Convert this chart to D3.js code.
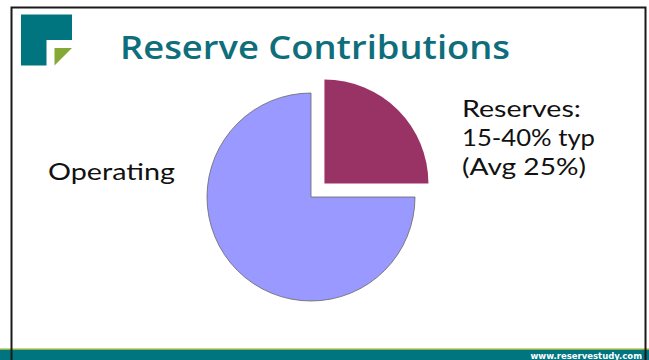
<!DOCTYPE html>
<html>
<head>
<meta charset="utf-8">
<script src="https://cdn.jsdelivr.net/npm/d3@7"></script>
<style>
    body { margin: 0; background: #fff; }
    svg { display: block; }
</style>
</head>
<body>
<div id="chart"></div>
<script>
// slice data, clockwise from 12 o'clock
var labels = ["Reserves", "Operating"];
var values = [25, 75];
var colors = ["#993366", "#9999ff"];
var exploded = [true, false];
var reservesText = ["Reserves:", "15-40% typ", "(Avg 25%)"];

var width = 649, height = 360;
var cx = 311, cy = 197, radius = 104, explode = 19;

var svg = d3.select('#chart').append('svg')
    .attr('width', width)
    .attr('height', height);

svg.append('rect')
    .attr('x', 0).attr('y', 0)
    .attr('width', width).attr('height', height)
    .attr('fill', '#fff');

// footer bar
svg.append('rect')
    .attr('x', 0).attr('y', 348.5)
    .attr('width', width).attr('height', 2)
    .attr('fill', '#8db33a');
svg.append('rect')
    .attr('x', 0).attr('y', 350)
    .attr('width', width).attr('height', 10)
    .attr('fill', '#00747f');
svg.append('text')
    .attr('x', 642).attr('y', 358.5)
    .attr('text-anchor', 'end')
    .attr('font-family', 'DejaVu Sans, sans-serif')
    .attr('font-size', 8.5)
    .attr('font-weight', 'bold')
    .attr('fill', '#fff')
    .text('www.reservestudy.com');

// border lines
svg.append('path')
    .attr('d', 'M11.5,360 V7.5 H645.5 V360')
    .attr('fill', 'none')
    .attr('stroke', '#1a1a1a')
    .attr('stroke-width', 2);

// logo
var logo = svg.append('g');
logo.append('path')
    .attr('d', 'M21,14.5 H72 V40 H46.5 V65.5 H21 Z')
    .attr('fill', '#00747f');
logo.append('path')
    .attr('d', 'M54.5,48 H72 L54.5,65.5 Z')
    .attr('fill', '#86a935');

// title
svg.append('text')
    .attr('x', 120).attr('y', 59)
    .attr('font-family', 'Open Sans, sans-serif')
    .attr('font-size', 33)
    .attr('font-weight', 600)
    .attr('fill', '#0f6e7b')
    .attr('textLength', 390)
    .attr('lengthAdjust', 'spacingAndGlyphs')
    .text('Reserve Contributions');

// pie
var pie = d3.pie().sort(null).value(function (d) { return d; });
var arc = d3.arc().innerRadius(0).outerRadius(radius);
var arcs = pie(values);

var g = svg.append('g')
    .attr('transform', 'translate(' + cx + ',' + cy + ')');

g.selectAll('.slice')
    .data(arcs)
    .enter().append('path')
    .attr('class', 'slice')
    .attr('d', arc)
    .attr('fill', function (d, i) { return colors[i]; })
    .attr('stroke', function (d, i) { return exploded[i] ? 'none' : '#666'; })
    .attr('stroke-width', 0.8)
    .attr('transform', function (d, i) {
        if (!exploded[i]) return null;
        var mid = (d.startAngle + d.endAngle) / 2;
        return 'translate(' + (Math.sin(mid) * explode) + ',' + (-Math.cos(mid) * explode) + ')';
    });

// labels
svg.append('text')
    .attr('x', 48).attr('y', 180)
    .attr('font-family', 'Lato, sans-serif')
    .attr('font-size', 23.5)
    .attr('fill', '#111')
    .attr('textLength', 127)
    .attr('lengthAdjust', 'spacingAndGlyphs')
    .text(labels[1]);

var rLens = [119, 133, 124];
svg.append('g').selectAll('text')
    .data(reservesText)
    .enter().append('text')
    .attr('x', 462)
    .attr('y', function (d, i) { return 116.5 + i * 29; })
    .attr('font-family', 'Lato, sans-serif')
    .attr('font-size', 23.5)
    .attr('fill', '#111')
    .attr('textLength', function (d, i) { return rLens[i]; })
    .attr('lengthAdjust', 'spacingAndGlyphs')
    .text(function (d) { return d; });
</script>
</body>
</html>
